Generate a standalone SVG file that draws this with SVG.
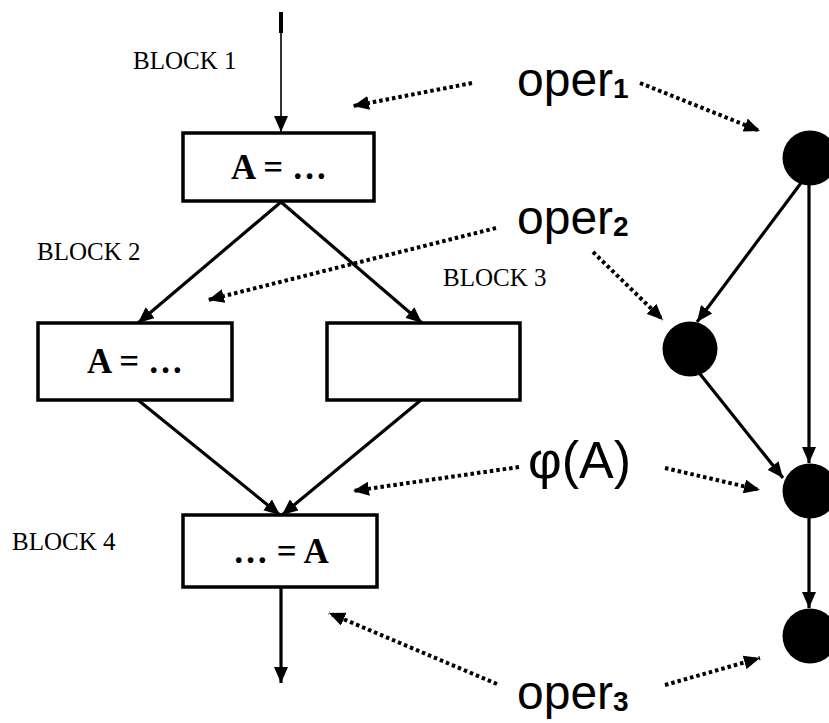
<svg xmlns="http://www.w3.org/2000/svg" width="829" height="723" viewBox="0 0 829 723">
<style>
.box{fill:#fff;stroke:#000;stroke-width:3.5}
.lbl{font-family:"Liberation Serif",serif;font-size:25px;fill:#000}
.btx{font-family:"Liberation Serif",serif;font-size:35px;font-weight:bold;fill:#000}
.op{font-family:"Liberation Sans",Arial,sans-serif;font-size:48px;fill:#000}
.phi{font-family:"Liberation Sans",Arial,sans-serif;font-size:52px;fill:#000}
.sub{font-family:"Liberation Sans",Arial,sans-serif;font-size:28px;font-weight:bold;fill:#000}
.sol{stroke:#000;stroke-width:3.2;fill:none;marker-end:url(#ah)}
.dot{stroke:#000;stroke-width:4;stroke-dasharray:3.5 3;fill:none;marker-end:url(#ah)}
.node{fill:#000}
</style>
<defs>
<marker id="ah" markerUnits="userSpaceOnUse" markerWidth="16" markerHeight="14" refX="16" refY="7" orient="auto">
<path d="M0,0 L16,7 L0,14 z" fill="#000"/>
</marker>
</defs>
<g id="block1">
<text class="lbl" x="133" y="69">BLOCK 1</text>
<rect class="box" x="183" y="133" width="191" height="68"/>
<text class="btx" x="279" y="179" text-anchor="middle">A = …</text>
</g>
<g id="block2">
<text class="lbl" x="37" y="260">BLOCK 2</text>
<rect class="box" x="38" y="323" width="194" height="77"/>
<text class="btx" x="135" y="373" text-anchor="middle">A = …</text>
</g>
<g id="block3">
<text class="lbl" x="443" y="286">BLOCK 3</text>
<rect class="box" x="327" y="323" width="193" height="77"/>
</g>
<g id="block4">
<text class="lbl" x="12" y="550">BLOCK 4</text>
<rect class="box" x="183" y="515" width="194" height="72"/>
<text class="btx" x="281" y="563" text-anchor="middle">… = A</text>
</g>
<g id="n1"><circle class="node" cx="810" cy="158" r="27.5"/></g>
<g id="n2"><circle class="node" cx="690" cy="349" r="27.5"/></g>
<g id="n3"><circle class="node" cx="810" cy="491" r="27.5"/></g>
<g id="n4"><circle class="node" cx="810" cy="636" r="27.5"/></g>
<g id="labels">
<text class="op" x="517" y="96">oper<tspan class="sub" dy="2">1</tspan></text>
<text class="op" x="517" y="234">oper<tspan class="sub" dy="2">2</tspan></text>
<text class="phi" x="528" y="478">φ(A)</text>
<text class="op" x="517" y="709">oper<tspan class="sub" dy="2">3</tspan></text>
</g>
<g id="connectors">
<line x1="281" y1="12" x2="281" y2="33" stroke="#000" stroke-width="4"/>
<line x1="281" y1="33" x2="281" y2="132" stroke="#000" stroke-width="1.6" marker-end="url(#ah)"/>
<line class="sol" x1="281" y1="202" x2="138" y2="323"/>
<line class="sol" x1="281" y1="202" x2="422" y2="323"/>
<line class="sol" x1="138" y1="400" x2="280" y2="515"/>
<line class="sol" x1="421" y1="400" x2="282" y2="515"/>
<line class="sol" x1="281" y1="587" x2="281" y2="683"/>
<line class="sol" x1="801" y1="183" x2="697" y2="322"/>
<line class="sol" x1="809" y1="185" x2="809" y2="463"/>
<line class="sol" x1="700" y1="374" x2="783" y2="478"/>
<line class="sol" x1="809" y1="518" x2="809" y2="608"/>
<line class="dot" x1="472" y1="83" x2="353" y2="106"/>
<line class="dot" x1="640" y1="83" x2="760" y2="131"/>
<line class="dot" x1="496" y1="228" x2="208" y2="300"/>
<line class="dot" x1="593" y1="252" x2="663" y2="320"/>
<line class="dot" x1="519" y1="467" x2="353" y2="491"/>
<line class="dot" x1="665" y1="468" x2="760" y2="490"/>
<line class="dot" x1="497" y1="684" x2="329" y2="613"/>
<line class="dot" x1="665" y1="685" x2="760" y2="658"/>
</g>
</svg>
